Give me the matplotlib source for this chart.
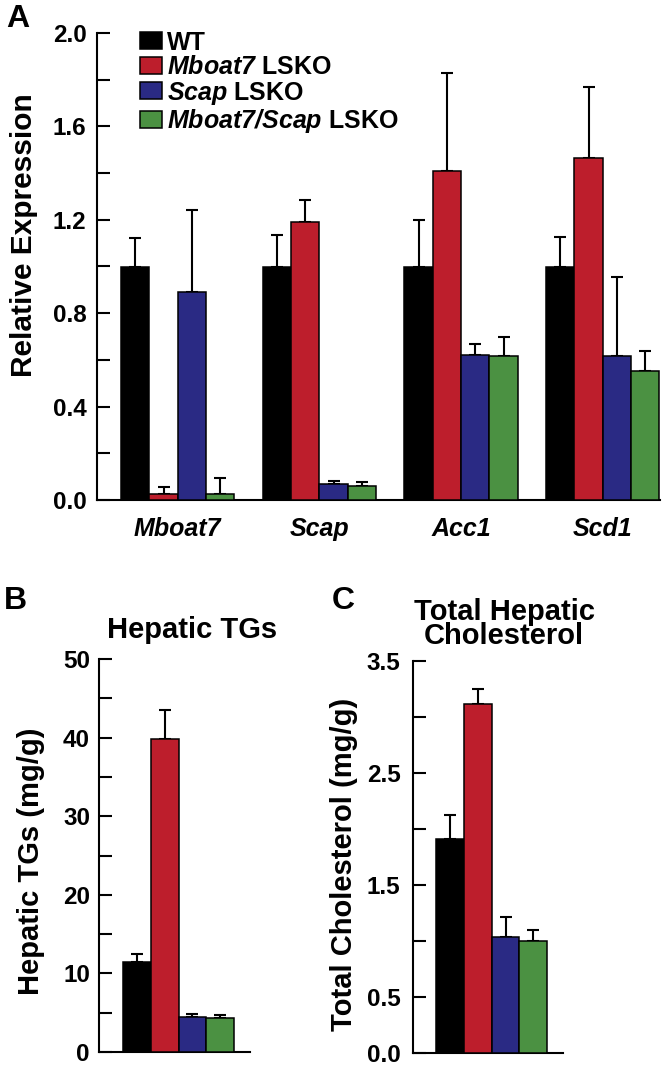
import numpy as np
import matplotlib
matplotlib.use("Agg")
import matplotlib.pyplot as plt
from matplotlib.ticker import MultipleLocator, FixedLocator, FormatStrFormatter

plt.rcParams['font.family'] = ['Liberation Sans', 'DejaVu Sans']
plt.rcParams['font.weight'] = 'bold'
plt.rcParams['mathtext.fontset'] = 'custom'
plt.rcParams['mathtext.bfit'] = 'Liberation Sans:bold:italic'
plt.rcParams['mathtext.it'] = 'Liberation Sans:italic'

# groups / colours
groups = ['WT', '$\\mathbfit{Mboat7}$ LSKO', '$\\mathbfit{Scap}$ LSKO', '$\\mathbfit{Mboat7/Scap}$ LSKO']
colors = ['#000000', '#BD1E2C', '#2A2A84', '#4B9142']

# panel A - relative expression
genes = ['Mboat7', 'Scap', 'Acc1', 'Scd1']
expr_wt = [1.0, 1.0, 1.0, 1.0]
expr_wt_err = [0.12, 0.135, 0.2, 0.128]
expr_mboat7 = [0.025, 1.19, 1.41, 1.465]
expr_mboat7_err = [0.03, 0.095, 0.42, 0.305]
expr_scap = [0.89, 0.067, 0.62, 0.617]
expr_scap_err = [0.35, 0.014, 0.048, 0.34]
expr_dko = [0.025, 0.06, 0.617, 0.552]
expr_dko_err = [0.068, 0.018, 0.08, 0.088]

# panel B - hepatic TGs (mg/g)
tg_vals = [11.5, 39.8, 4.5, 4.35]
tg_err = [1.0, 3.7, 0.3, 0.35]

# panel C - total cholesterol (mg/g)
chol_vals = [1.91, 3.12, 1.04, 1.0]
chol_err = [0.215, 0.13, 0.17, 0.10]

W, H = 664, 1065
fig = plt.figure(figsize=(W / 100, H / 100), dpi=100)


def px_axes(x0, x1, ytop, ybot):
    return fig.add_axes([x0 / W, 1 - ybot / H, (x1 - x0) / W, (ybot - ytop) / H])


def style_axes(ax, pad, size=17.5):
    for s in ['top', 'right']:
        ax.spines[s].set_visible(False)
    for s in ['left', 'bottom']:
        ax.spines[s].set_linewidth(1.5)
    ax.tick_params(axis='y', which='both', direction='in', length=9, width=1.5,
                   pad=pad, labelsize=size)
    ax.tick_params(axis='x', which='both', length=0)


def draw_bars(ax, x, vals, errs, color, label=None):
    ax.bar(x, vals, width=1.0, align='edge', color=color, edgecolor='black',
           linewidth=1.1, zorder=3, label=label)
    ax.errorbar(np.asarray(x) + 0.5, vals, yerr=[np.zeros(len(vals)), errs], fmt='none',
                ecolor='black', elinewidth=1.5, capsize=4.3, capthick=1.5, zorder=2)


# ---- panel A ----
axA = px_axes(97, 660, 33, 500)
start = 0.85
series = [(expr_wt, expr_wt_err), (expr_mboat7, expr_mboat7_err),
          (expr_scap, expr_scap_err), (expr_dko, expr_dko_err)]
for i, (v, e) in enumerate(series):
    x = [start + 5 * g + i for g in range(len(genes))]
    draw_bars(axA, x, v, e, colors[i], label=groups[i])
axA.set_xlim(0, 19.87)
axA.set_ylim(0, 2.0)
style_axes(axA, pad=7.5)
axA.yaxis.set_major_locator(MultipleLocator(0.4))
axA.yaxis.set_minor_locator(MultipleLocator(0.2))
axA.yaxis.set_major_formatter(FormatStrFormatter('%.1f'))
axA.set_xticks([start + 5 * g + 2 for g in range(len(genes))])
axA.set_xticklabels(genes, fontstyle='italic', fontweight='bold', fontsize=18)
axA.tick_params(axis='x', pad=12)
axA.set_ylabel('Relative Expression', fontsize=21.5, fontweight='bold', va='center')
axA.yaxis.set_label_coords(-0.13, 0.567)
leg = axA.legend(loc='upper left', bbox_to_anchor=(0.0764, 1.005), frameon=False,
                 fontsize=18, handlelength=0.88, handleheight=0.68, handletextpad=0.2,
                 labelspacing=0.02, borderpad=0, borderaxespad=0)

# ---- panel B ----
axB = px_axes(99, 250, 659, 1052)
xb = [0.865 + i for i in range(4)]
for i in range(4):
    draw_bars(axB, [xb[i]], [tg_vals[i]], [tg_err[i]], colors[i])
axB.set_xlim(0, 5.44)
axB.set_ylim(0, 50)
style_axes(axB, pad=6.5)
axB.yaxis.set_major_locator(MultipleLocator(10))
axB.yaxis.set_minor_locator(MultipleLocator(5))
axB.yaxis.set_major_formatter(FormatStrFormatter('%d'))
axB.set_xticks([])
axB.set_ylabel('Hepatic TGs (mg/g)', fontsize=21, fontweight='bold', va='center')
axB.yaxis.set_label_coords(-68 / 151, 0.486)
axB.text((192 - 99) / 151, (1052 - 630) / 393, 'Hepatic TGs', transform=axB.transAxes,
         ha='center', va='center', fontsize=21, fontweight='bold')

# ---- panel C ----
axC = px_axes(413, 563, 661, 1053)
xc = [0.83 + i for i in range(4)]
for i in range(4):
    draw_bars(axC, [xc[i]], [chol_vals[i]], [chol_err[i]], colors[i])
axC.set_xlim(0, 5.4)
axC.set_ylim(0, 3.5)
style_axes(axC, pad=9)
axC.yaxis.set_major_locator(FixedLocator([0.0, 0.5, 1.5, 2.5, 3.5]))
axC.yaxis.set_minor_locator(FixedLocator([1.0, 2.0, 3.0]))
axC.yaxis.set_major_formatter(FormatStrFormatter('%.1f'))
axC.set_xticks([])
axC.set_ylabel('Total Cholesterol (mg/g)', fontsize=21, fontweight='bold', va='center')
axC.yaxis.set_label_coords(-69 / 150, 0.48)
axC.text((504 - 413) / 150, (1053 - 624) / 392, 'Total Hepatic\nCholesterol',
         transform=axC.transAxes, ha='center', va='center', fontsize=21,
         fontweight='bold', linespacing=0.8)

# panel letters
fig.text(6 / W, 1 - 4 / H, 'A', fontsize=23, fontweight='bold', va='top', ha='left')
fig.text(4 / W, 1 - 586 / H, 'B', fontsize=23, fontweight='bold', va='top', ha='left')
fig.text(332 / W, 1 - 586 / H, 'C', fontsize=23, fontweight='bold', va='top', ha='left')

fig.savefig('out.png', dpi=100)
